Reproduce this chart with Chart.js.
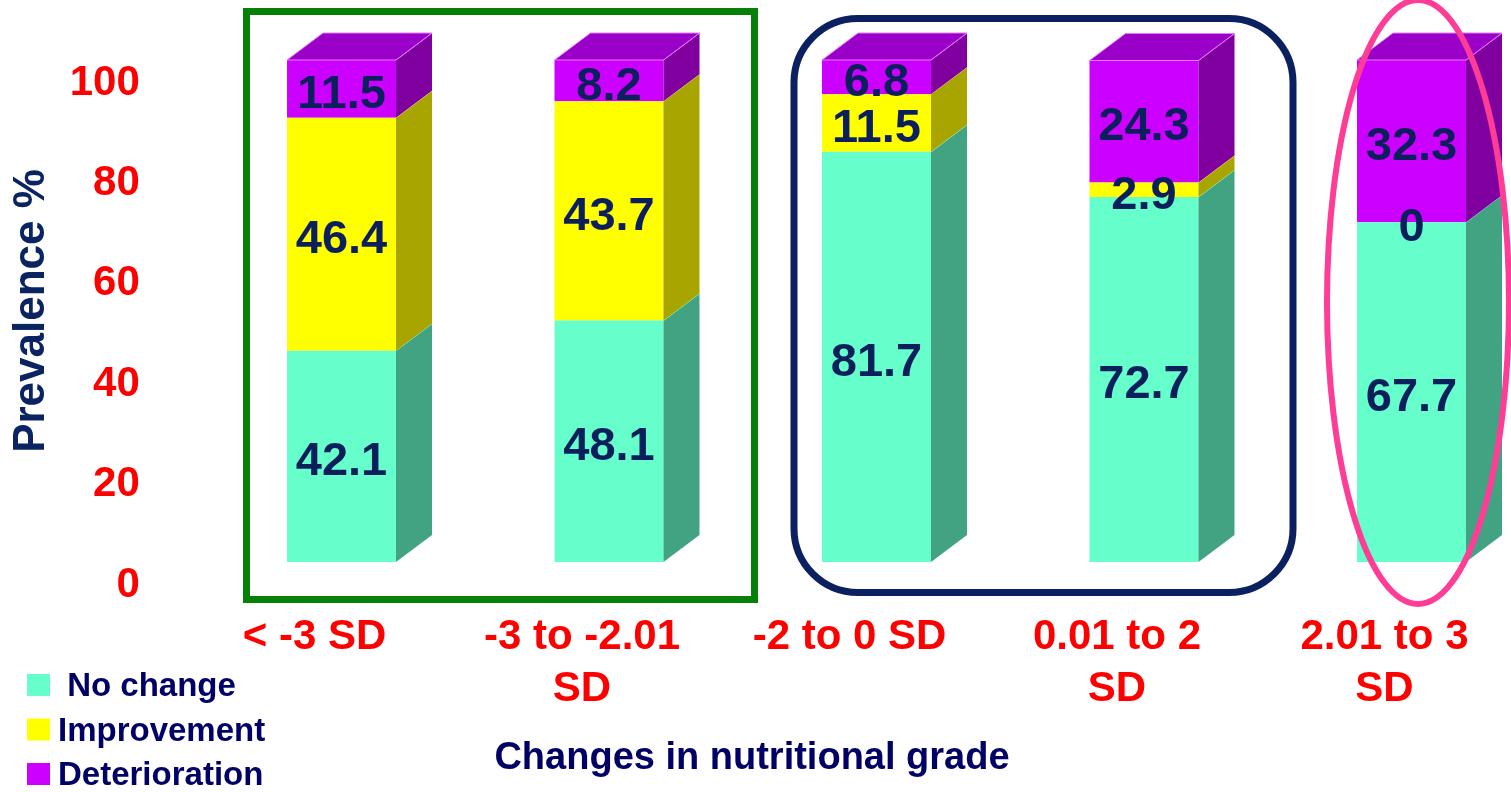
<!DOCTYPE html>
<html>
<head>
<meta charset="utf-8">
<title>Changes in nutritional grade</title>
<script src="https://cdn.jsdelivr.net/npm/chart.js@4/dist/chart.umd.min.js"></script>
<style>
  html, body { margin: 0; padding: 0; background: #ffffff; overflow: hidden; }
  #wrap { position: relative; width: 1511px; height: 792px; overflow: hidden; }
  canvas { display: block; }
</style>
</head>
<body>
<div id="wrap"><canvas id="chart" width="1560" height="792"></canvas></div>
<script>
// ---- data ----
const categories = [['< -3 SD'], ['-3 to -2.01', 'SD'], ['-2 to 0 SD'], ['0.01 to 2', 'SD'], ['2.01 to 3', 'SD']];
const seriesNames = [' No change', 'Improvement', 'Deterioration'];
const noChange = [42.1, 48.1, 81.7, 72.7, 67.7];
const improvement = [46.4, 43.7, 11.5, 2.9, 0];
const deterioration = [11.5, 8.2, 6.8, 24.3, 32.3];
const yTicks = [0, 20, 40, 60, 80, 100];
const yTitle = 'Prevalence %';
const xTitle = 'Changes in nutritional grade';

// ---- styling ----
const FONT = '"Liberation Sans", Arial, Helvetica, sans-serif';
const shades = [
  { front: '#66FFCC', side: '#42A383', top: '#4FC79E', edge: '#8CFFDA' },
  { front: '#FFFF00', side: '#A8A400', top: '#CCCC00', edge: '#FFFF66' },
  { front: '#CC00FF', side: '#80009F', top: '#9A00C8', edge: '#E27CFF' }
];
const DEPTH_X = 36, DEPTH_Y = -27;

// extruded side / top faces plus value labels for each stacked segment
const bars3d = {
  id: 'bars3d',
  afterDatasetsDraw(chart) {
    const ctx = chart.ctx;
    const metas = chart.data.datasets.map((d, i) => chart.getDatasetMeta(i));
    ctx.save();
    ctx.lineWidth = 1;
    ctx.lineJoin = 'round';
    metas.forEach((meta, di) => {
      const sh = shades[di];
      meta.data.forEach((el, j) => {
        const v = chart.data.datasets[di].data[j];
        if (!v) return;
        const p = el.getProps(['x', 'y', 'base', 'width'], true);
        const r = p.x + p.width / 2;
        ctx.beginPath();
        ctx.moveTo(r, p.y);
        ctx.lineTo(r + DEPTH_X, p.y + DEPTH_Y);
        ctx.lineTo(r + DEPTH_X, p.base + DEPTH_Y);
        ctx.lineTo(r, p.base);
        ctx.closePath();
        ctx.fillStyle = sh.side;
        ctx.fill();
        ctx.strokeStyle = sh.edge;
        ctx.beginPath();
        ctx.moveTo(r, p.y);
        ctx.lineTo(r + DEPTH_X, p.y + DEPTH_Y);
        ctx.stroke();
      });
    });
    // top face on the highest non-empty segment of each column
    chart.data.labels.forEach((lbl, j) => {
      for (let di = metas.length - 1; di >= 0; di--) {
        const v = chart.data.datasets[di].data[j];
        if (!v) continue;
        const p = metas[di].data[j].getProps(['x', 'y', 'base', 'width'], true);
        const l = p.x - p.width / 2, r = p.x + p.width / 2;
        ctx.beginPath();
        ctx.moveTo(l, p.y);
        ctx.lineTo(l + DEPTH_X, p.y + DEPTH_Y);
        ctx.lineTo(r + DEPTH_X, p.y + DEPTH_Y);
        ctx.lineTo(r, p.y);
        ctx.closePath();
        ctx.fillStyle = shades[di].top;
        ctx.fill();
        ctx.strokeStyle = shades[di].edge;
        ctx.stroke();
        break;
      }
    });
    // value labels
    ctx.fillStyle = '#0B1F5C';
    ctx.font = 'bold 47px ' + FONT;
    ctx.textAlign = 'center';
    ctx.textBaseline = 'middle';
    metas.forEach((meta, di) => {
      meta.data.forEach((el, j) => {
        const v = chart.data.datasets[di].data[j];
        const p = el.getProps(['x', 'y', 'base'], true);
        ctx.fillText(String(v), p.x, (p.y + p.base) / 2 + 6);
      });
    });
    ctx.restore();
  }
};

// group outlines, legend and horizontal axis caption
const overlay = {
  id: 'overlay',
  afterDraw(chart) {
    const ctx = chart.ctx;
    ctx.save();
    // green frame around the two lowest grades
    ctx.strokeStyle = '#078007';
    ctx.lineWidth = 7;
    ctx.strokeRect(246.5, 11.5, 508, 588);
    // navy rounded frame around the middle grades
    ctx.strokeStyle = '#0B2060';
    ctx.lineWidth = 7;
    ctx.beginPath();
    ctx.roundRect(794, 18.5, 499, 574, 64);
    ctx.stroke();
    // pink ellipse around the last grade
    ctx.strokeStyle = '#FF3C96';
    ctx.lineWidth = 6;
    ctx.beginPath();
    ctx.ellipse(1418, 302, 91, 302, 0, 0, Math.PI * 2);
    ctx.stroke();

    // legend
    ctx.font = 'bold 33px ' + FONT;
    ctx.textAlign = 'left';
    ctx.textBaseline = 'middle';
    chart.data.datasets.forEach((ds, i) => {
      const top = 674 + i * 44.5;
      ctx.fillStyle = ds.backgroundColor;
      ctx.fillRect(27, top, 23, 22);
      ctx.fillStyle = '#000066';
      ctx.fillText(ds.label, 58, top + 13);
    });

    // axis caption
    ctx.font = 'bold 38px ' + FONT;
    ctx.textAlign = 'center';
    ctx.fillStyle = '#000066';
    ctx.fillText(xTitle, 752, 759);
    ctx.restore();
  }
};

new Chart(document.getElementById('chart'), {
  type: 'bar',
  data: {
    labels: categories,
    datasets: [
      { label: seriesNames[0], data: noChange, backgroundColor: shades[0].front },
      { label: seriesNames[1], data: improvement, backgroundColor: shades[1].front },
      { label: seriesNames[2], data: deterioration, backgroundColor: shades[2].front }
    ]
  },
  options: {
    responsive: false,
    devicePixelRatio: 1,
    animation: false,
    categoryPercentage: 0.4075,
    barPercentage: 1,
    borderWidth: 0,
    layout: { padding: { left: 0, top: 60, right: 14.75, bottom: 0 } },
    plugins: { legend: { display: false }, tooltip: { enabled: false }, title: { display: false } },
    scales: {
      x: {
        stacked: true,
        grid: { display: false, drawTicks: false },
        border: { display: false },
        ticks: {
          color: '#FF0000',
          font: { family: FONT, size: 42, weight: 'bold', lineHeight: 1.25 },
          padding: 49,
          labelOffset: -27,
          maxRotation: 0,
          autoSkip: false
        },
        afterFit(scale) {
          scale.height = 230;
          scale.paddingLeft = 0;
          scale.paddingRight = 0;
        }
      },
      y: {
        stacked: true,
        min: 0,
        max: 100,
        grid: { display: false, drawTicks: false },
        border: { display: false },
        afterBuildTicks(scale) { scale.ticks = yTicks.map(v => ({ value: v })); },
        ticks: {
          color: '#FF0000',
          font: { family: FONT, size: 42, weight: 'bold' },
          padding: 68,
          labelOffset: 23
        },
        title: {
          display: true,
          text: yTitle,
          color: '#0A2462',
          font: { family: FONT, size: 44, weight: 'bold' },
          padding: { top: 5, bottom: 0 }
        },
        afterFit(scale) {
          scale.width = 207.75;
          scale.paddingTop = 0;
          scale.paddingBottom = 0;
        }
      }
    }
  },
  plugins: [bars3d, overlay]
});
</script>
</body>
</html>
